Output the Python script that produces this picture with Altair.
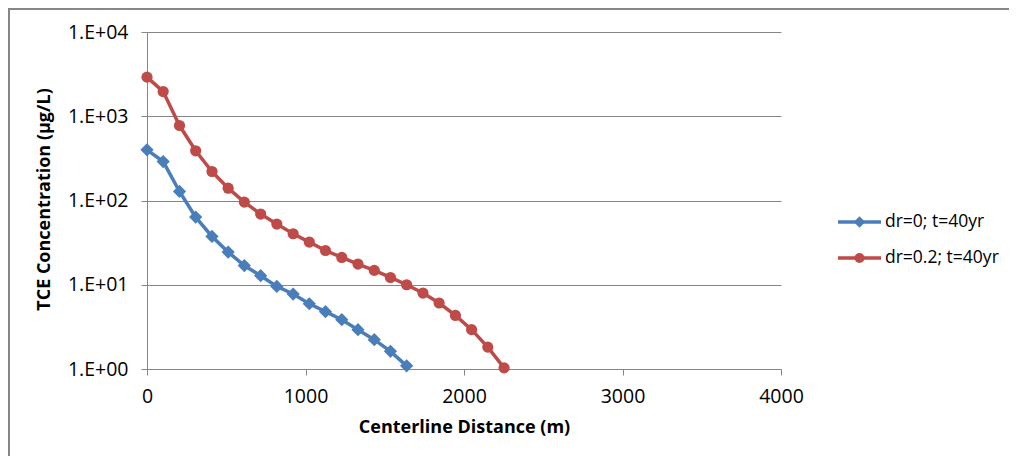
import altair as alt
import pandas as pd

# ---- data ----
series_a = "dr=0; t=40yr"
series_b = "dr=0.2; t=40yr"

dist_a = [0, 102, 205, 307, 410, 512, 614, 717, 819, 922, 1024, 1126, 1229, 1331, 1434, 1536, 1638]
conc_a = [399, 290, 128, 63.5, 37.4, 24.4, 16.9, 12.8, 9.55, 7.76, 5.95, 4.79, 3.85, 2.93, 2.23, 1.62, 1.09]

dist_b = [0, 102, 205, 307, 410, 512, 614, 717, 819, 922, 1024, 1126, 1229, 1331, 1434, 1536,
          1638, 1741, 1843, 1946, 2048, 2150, 2253]
conc_b = [2910, 1963, 776, 389, 221, 140, 95.7, 69, 52.5, 40.3, 32.1, 25.5, 21.1, 17.6, 14.8, 12.2,
          10.0, 7.97, 6.07, 4.32, 2.93, 1.82, 1.03]

x_ticks = [0, 1000, 2000, 3000, 4000]
y_ticks = [1, 10, 100, 1000, 10000]

x_title = "Centerline Distance (m)"
y_title = "TCE Concentration (µg/L)"

BLUE = "#4A7EBB"
RED = "#BE4B48"
GRAY = "#868686"
FONT = "Open Sans"

df_a = pd.DataFrame({"dist": dist_a, "conc": conc_a, "series": series_a})
df_b = pd.DataFrame({"dist": dist_b, "conc": conc_b, "series": series_b})

x_enc = alt.X(
    "dist:Q",
    scale=alt.Scale(domain=[0, 4000], nice=False, zero=False),
    axis=alt.Axis(
        values=x_ticks, grid=False, title=x_title, format="d", labelFlush=False,
        labelFontSize=19.5, labelPadding=12, titleFontSize=18, titleFontWeight="bold",
        titlePadding=13, tickSize=6,
    ),
)
y_enc = alt.Y(
    "conc:Q",
    scale=alt.Scale(type="log", domain=[1, 10000], nice=False),
    axis=alt.Axis(
        values=y_ticks, grid=True, title=y_title, labelFlush=False,
        labelExpr="'1.E+0' + round(log(datum.value) / LN10)",
        labelFontSize=19.5, labelPadding=13, tickSize=6,
        titleFontSize=18, titleFontWeight="bold",
        titleX=-103, titleY=167, titleAlign="center", titleBaseline="middle", titleAngle=-90,
    ),
)

line_a = alt.Chart(df_a).mark_line(color=BLUE, strokeWidth=3.5).encode(x=x_enc, y=y_enc)
pts_a = alt.Chart(df_a).mark_point(shape="diamond", filled=True, size=175, color=BLUE, opacity=1).encode(x=x_enc, y=y_enc)
line_b = alt.Chart(df_b).mark_line(color=RED, strokeWidth=3.5).encode(x=x_enc, y=y_enc)
pts_b = alt.Chart(df_b).mark_point(shape="circle", filled=True, size=125, color=RED, opacity=1).encode(x=x_enc, y=y_enc)

# ---- manual legend (line + marker + label) ----
leg_df_a = pd.DataFrame({"label": [series_a]})
leg_df_b = pd.DataFrame({"label": [series_b]})

def legend_item(df, color, shape, size, ypos):
    rule = alt.Chart(df).mark_rule(color=color, strokeWidth=3.5).encode(
        x=alt.value(691), x2=alt.value(734), y=alt.value(ypos))
    sym = alt.Chart(df).mark_point(shape=shape, filled=True, size=size, color=color, opacity=1).encode(
        x=alt.value(712.5), y=alt.value(ypos))
    txt = alt.Chart(df).mark_text(align="left", baseline="middle", fontSize=17.5, font=FONT, color="#000000").encode(
        x=alt.value(738), y=alt.value(ypos), text="label:N")
    return rule + sym + txt

leg_a = legend_item(leg_df_a, BLUE, "diamond", 130, 190)
leg_b = legend_item(leg_df_b, RED, "circle", 100, 226)

# ---- outer chart-area frame ----
frame = alt.Chart(leg_df_a).mark_rect(fill=None, stroke=GRAY, strokeWidth=2).encode(
    x=alt.value(-138), x2=alt.value(1000), y=alt.value(-23), y2=alt.value(500))

chart = (
    alt.layer(line_a, line_b, pts_a, pts_b, leg_a, leg_b, frame)
    .properties(
        width=634, height=337,
        autosize=alt.AutoSizeParams(type="none"),
        padding={"left": 139, "top": 24, "right": 228, "bottom": 87},
        background="white",
    )
    .configure_view(stroke=None)
    .configure_axis(
        domainColor=GRAY, tickColor=GRAY, gridColor=GRAY, gridWidth=1, domainWidth=1, tickWidth=1,
        labelFont=FONT, titleFont=FONT, labelColor="#000000", titleColor="#000000",
    )
)

chart.save("out.html", embed_options={"renderer": "svg", "actions": False})
